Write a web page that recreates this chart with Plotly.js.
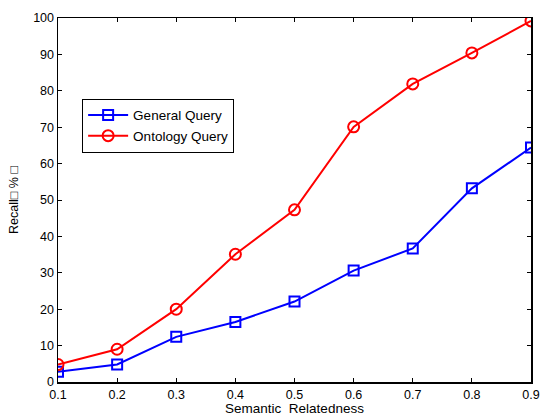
<!DOCTYPE html>
<html>
<head>
<meta charset="utf-8">
<script src="https://cdn.plot.ly/plotly-3.0.1.min.js"></script>
<style>html,body{margin:0;padding:0;background:#fff;}#chart{width:542px;height:420px;}</style>
</head>
<body>
<div id="chart"></div>
<script>
const relatedness = [0.1, 0.2, 0.3, 0.4, 0.5, 0.6, 0.7, 0.8, 0.9];
const generalQuery = [2.8, 4.8, 12.4, 16.5, 22.1, 30.6, 36.7, 53.2, 64.4];
const ontologyQuery = [4.8, 9.0, 20.0, 35.1, 47.3, 70.1, 81.9, 90.4, 99.2];
const xTicks = [0.1, 0.2, 0.3, 0.4, 0.5, 0.6, 0.7, 0.8, 0.9];
const yTicks = [0, 10, 20, 30, 40, 50, 60, 70, 80, 90, 100];

const font = "Arial, 'Liberation Sans', sans-serif";
const traces = [
  {x: relatedness, y: generalQuery, name: 'General Query', mode: 'lines+markers',
   line: {color: '#0000ff', width: 2},
   marker: {symbol: 'square-open', size: 10, color: '#0000ff', line: {width: 2, color: '#0000ff'}}},
  {x: relatedness, y: ontologyQuery, name: 'Ontology Query', mode: 'lines+markers',
   line: {color: '#ff0000', width: 2},
   marker: {symbol: 'circle-open', size: 11, color: '#ff0000', line: {width: 2, color: '#ff0000'}}}
];
const axisCommon = {
  showgrid: false, zeroline: false, showline: true, linecolor: '#000', linewidth: 1.5,
  mirror: 'ticks', ticks: 'inside', ticklen: 4, tickwidth: 1, tickcolor: '#000',
  tickfont: {family: font, size: 12.5, color: '#000'}
};
const layout = {
  width: 542, height: 420,
  margin: {l: 58, r: 11, t: 18, b: 38},
  paper_bgcolor: '#fff', plot_bgcolor: '#fff',
  showlegend: true,
  legend: {x: 0.051, y: 0.778, xanchor: 'left', yanchor: 'top',
           bgcolor: '#fff', bordercolor: '#000', borderwidth: 1, itemwidth: 40,
           font: {family: font, size: 13.5, color: '#000'}, tracegroupgap: 0},
  xaxis: Object.assign({}, axisCommon, {
    range: [0.1, 0.9], tickvals: xTicks, ticktext: xTicks.map(v => v.toFixed(1)),
    title: {text: 'Semantic\u00a0\u00a0Relatedness', font: {family: font, size: 13.5, color: '#000'}, standoff: 3}
  }),
  yaxis: Object.assign({}, axisCommon, {
    range: [0, 100], tickvals: yTicks, ticktext: yTicks.map(String),
    title: {text: 'Recall\u25a1\u00a0%\u00a0\u25a1', font: {family: font, size: 12.5, color: '#000'}, standoff: 12}
  })
};
Plotly.newPlot('chart', traces, layout, {displayModeBar: false, staticPlot: true});
</script>
</body>
</html>
